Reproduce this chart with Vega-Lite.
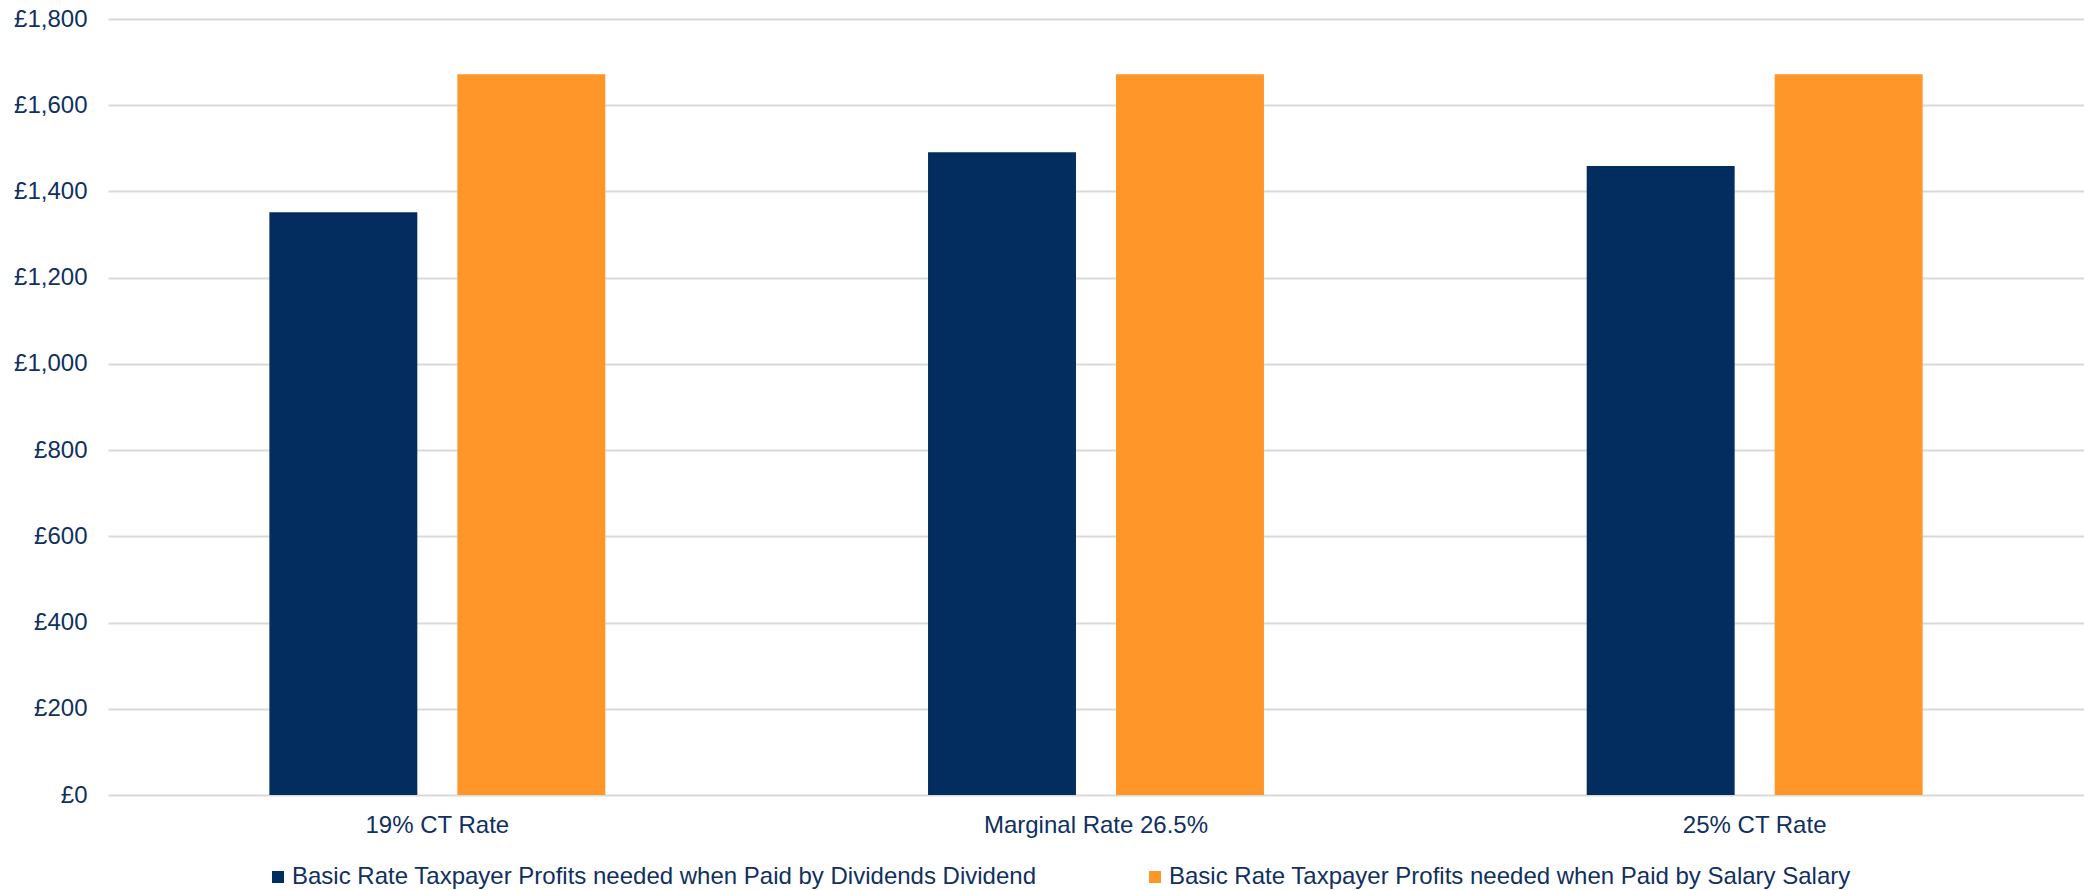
{
  "$schema": "https://vega.github.io/schema/vega-lite/v6.json",
  "autosize": {"type": "none"},
  "padding": {"left": 108, "top": 19, "right": 0, "bottom": 95},
  "width": 1976,
  "height": 776,
  "background": "#ffffff",
  "config": {
    "view": {"stroke": null},
    "font": "Liberation Sans"
  },
  "data": {
    "values": [
      {"rate": "19% CT Rate", "series": "Basic Rate Taxpayer Profits needed when Paid by Dividends Dividend", "profit": 1352},
      {"rate": "19% CT Rate", "series": "Basic Rate Taxpayer Profits needed when Paid by Salary  Salary", "profit": 1672},
      {"rate": "Marginal Rate 26.5%", "series": "Basic Rate Taxpayer Profits needed when Paid by Dividends Dividend", "profit": 1491},
      {"rate": "Marginal Rate 26.5%", "series": "Basic Rate Taxpayer Profits needed when Paid by Salary  Salary", "profit": 1672},
      {"rate": "25% CT Rate", "series": "Basic Rate Taxpayer Profits needed when Paid by Dividends Dividend", "profit": 1459},
      {"rate": "25% CT Rate", "series": "Basic Rate Taxpayer Profits needed when Paid by Salary  Salary", "profit": 1672}
    ]
  },
  "mark": {"type": "bar"},
  "encoding": {
    "x": {
      "field": "rate",
      "type": "nominal",
      "sort": ["19% CT Rate", "Marginal Rate 26.5%", "25% CT Rate"],
      "scale": {"paddingInner": 0.49, "paddingOuter": 0.245},
      "axis": {
        "title": null,
        "labelAngle": 0,
        "ticks": false,
        "domain": false,
        "labelPadding": 18,
        "labelFont": "Liberation Sans",
        "labelFontSize": 24,
        "labelLimit": 0,
        "labelColor": "#10305F"
      }
    },
    "xOffset": {
      "field": "series",
      "type": "nominal",
      "sort": [
        "Basic Rate Taxpayer Profits needed when Paid by Dividends Dividend",
        "Basic Rate Taxpayer Profits needed when Paid by Salary  Salary"
      ],
      "scale": {"paddingInner": 0.213, "paddingOuter": 0}
    },
    "y": {
      "field": "profit",
      "type": "quantitative",
      "scale": {"domain": [0, 1800], "nice": false},
      "axis": {
        "title": null,
        "values": [0, 200, 400, 600, 800, 1000, 1200, 1400, 1600, 1800],
        "labelExpr": "'£' + format(datum.value, ',')",
        "ticks": false,
        "domain": false,
        "grid": true,
        "gridColor": "#D9D9D9",
        "gridWidth": 2,
        "labelPadding": 21,
        "labelFont": "Liberation Sans",
        "labelFontSize": 24,
        "labelColor": "#10305F"
      }
    },
    "color": {
      "field": "series",
      "type": "nominal",
      "sort": [
        "Basic Rate Taxpayer Profits needed when Paid by Dividends Dividend",
        "Basic Rate Taxpayer Profits needed when Paid by Salary  Salary"
      ],
      "scale": {
        "domain": [
          "Basic Rate Taxpayer Profits needed when Paid by Dividends Dividend",
          "Basic Rate Taxpayer Profits needed when Paid by Salary  Salary"
        ],
        "range": ["#032D5F", "#FF9629"]
      },
      "legend": {
        "title": null,
        "orient": "none",
        "direction": "horizontal",
        "legendX": 158,
        "legendY": 846,
        "symbolType": "square",
        "symbolSize": 144,
        "symbolStrokeWidth": 0,
        "labelOffset": 2,
        "labelFont": "Liberation Sans",
        "labelFontSize": 24,
        "labelColor": "#10305F",
        "labelLimit": 1000,
        "columnPadding": 106
      }
    }
  }
}
